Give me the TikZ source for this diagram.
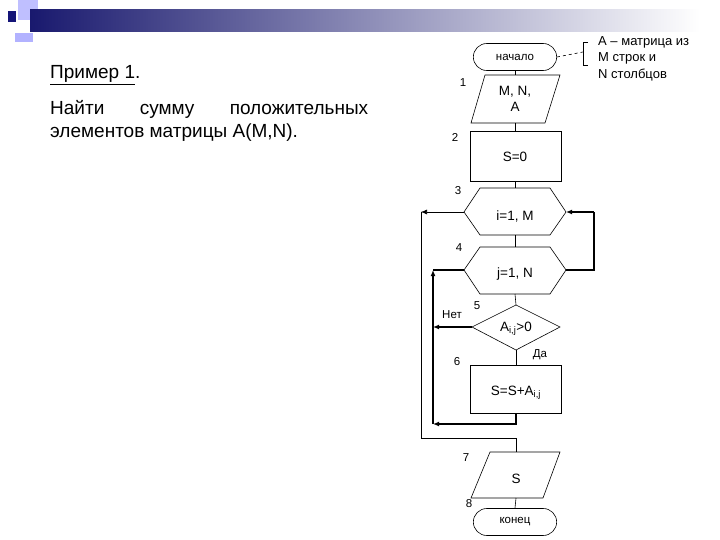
\documentclass[tikz,border=0pt]{standalone}
\usepackage{fontspec}
\setmainfont{Liberation Sans}
\usetikzlibrary{arrows.meta,shapes.geometric,shapes.misc}
\definecolor{navyA}{RGB}{25,25,110}
\definecolor{navyB}{RGB}{20,20,120}
\begin{document}
\begin{tikzpicture}[x=1pt,y=-1pt,
  blk/.style={draw,line width=0.6pt},
  lab/.style={font=\fontsize{11.5}{12}\selectfont,inner sep=0},
  txt/.style={font=\fontsize{13.5}{16}\selectfont,align=center,inner sep=0},
  thk/.style={line width=1.6pt},
  arr/.style={-{Latex[length=6pt,width=5pt]}}]
\useasboundingbox (0,0) rectangle (720,540);
% header decoration
\fill[blue!25!white] (18,0) rectangle (38,20);
\fill[blue!30!white] (15,33) rectangle (33,42);
\shade[left color=navyA,right color=white] (30,10) rectangle (700,32);
\fill[navyB] (8,11) rectangle (16,22);
% left text
\node[anchor=base west,inner sep=0,font=\fontsize{19}{22}\selectfont] (t1) at (50,79) {\underline{Пример 1}.};
\node[anchor=north west,inner sep=0,font=\fontsize{19}{23}\selectfont,text width=318pt,align=justify] (t2) at (50,100) {Найти\hfill сумму\hfill положительных\\элементов матрицы A(M,N).};
% flowchart
\node[blk,rounded rectangle,minimum width=90,minimum height=27,font=\fontsize{11.5}{12}\selectfont] (start) at (515,57) {начало};
\draw[blk] (485,75) -- (560,75) -- (545,123) -- (471,123) -- cycle;
\node[txt] (in) at (515,99) {M, N,\\A};
\draw[blk] (470,131) rectangle (561,181);
\node[txt] (s0) at (515,157) {S=0};
\draw[blk] (480,188) -- (550,188) -- (566,212) -- (550,235) -- (480,235) -- (464,212) -- cycle;
\node[txt] (h3) at (515,216) {i=1, M};
\draw[blk] (480,247) -- (550,247) -- (566,270) -- (550,294) -- (480,294) -- (464,270) -- cycle;
\node[txt] (h4) at (515,274) {j=1, N};
\draw[blk] (516,305) -- (560,327) -- (516,350) -- (472,327) -- cycle;
\node[txt] (d5) at (516,329) {A\textsubscript{i,j}>0};
\draw[blk] (470,365) rectangle (561,413);
\node[txt] (s6) at (516,393) {S=S+A\textsubscript{i,j}};
\draw[blk] (490,452) -- (560,452) -- (543,498) -- (471,498) -- cycle;
\node[txt] (out) at (516,479) {S};
\node[blk,rounded rectangle,minimum width=90,minimum height=27,font=\fontsize{11.5}{12}\selectfont] (end) at (515,522) {конец};
% connectors main
\draw[blk] (start.south) -- (515,75);
\draw[blk] (515,123) -- (515,131);
\draw[blk] (515,181) -- (515,188);
\draw[blk] (515,235) -- (515,247);
\draw[blk] (515,294) -- (516,305);
\draw[blk] (516,350) -- (516,365);
\draw[blk] (516,498) -- (end.north);
% inner loop
\draw[thk,arr] (516,413) -- (516,424) -- (433,424);
\draw[thk,arr] (472,327) -- (433,327);
\draw[thk,arr] (433,424) -- (433,270);
\draw[thk] (433,270) -- (464,270);
% outer loop
\draw[thk] (566,270) -- (594,270) -- (594,212);
\draw[thk,arr] (594,212) -- (566,212);
\draw[blk,arr] (464,212) -- (421,212);
\draw[blk] (421,212) -- (421,438) -- (516,438) -- (516,452);
% labels
\node[lab] at (463,83) {1};
\node[lab] at (455,137) {2};
\node[lab] at (458,191) {3};
\node[lab] at (459,248) {4};
\node[lab] at (477,306) {5};
\node[lab] at (452,315) {Нет};
\node[lab] at (540,355) {Да};
\node[lab] at (457,362) {6};
\node[lab] at (466,458) {7};
\node[lab] at (469,504) {8};
% comment
\draw[blk,dashed] (start.east) -- (583,52);
\draw[blk] (588,42) -- (583,42) -- (583,65) -- (588,65);
\node[anchor=north west,inner sep=0,font=\fontsize{13}{16.5}\selectfont,align=left] (cm) at (598,36) {A – матрица из\\M строк и\\N столбцов};
\end{tikzpicture}
\end{document}
